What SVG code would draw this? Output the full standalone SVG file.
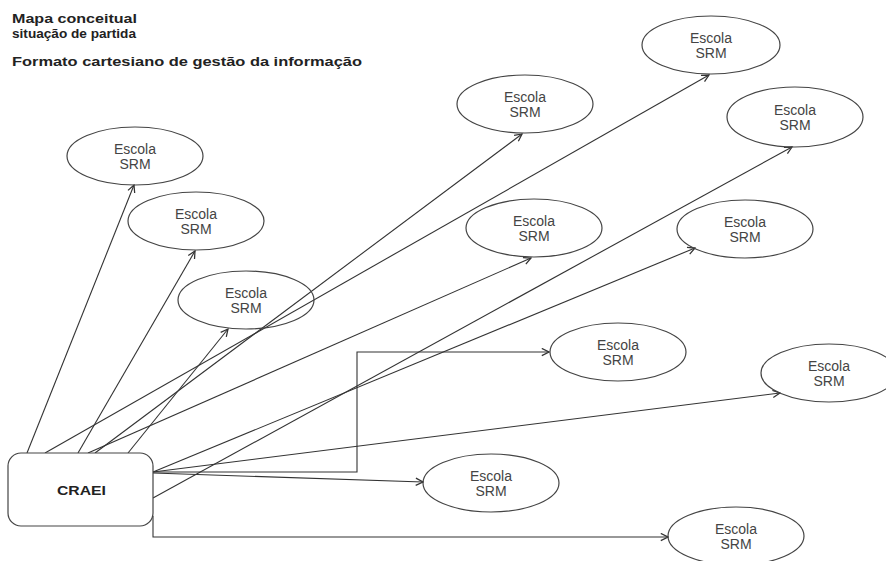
<svg xmlns="http://www.w3.org/2000/svg" width="886" height="561" viewBox="0 0 886 561">
<style>
.title{font-family:"Liberation Sans",Arial,sans-serif;font-weight:bold;font-size:12px;fill:#222}
.node ellipse{fill:none;stroke:#444;stroke-width:1.2}
.lbl{font-family:"Liberation Sans",Arial,sans-serif;font-size:14px;fill:#444;text-anchor:middle}
.box{fill:#fff;stroke:#444;stroke-width:1.2}
.conn{fill:none;stroke:#333;stroke-width:1.1}
</style>
<defs>
<marker id="arr" viewBox="0 0 10 10" refX="9" refY="5" markerWidth="9" markerHeight="9" markerUnits="userSpaceOnUse" orient="auto">
<path d="M1,1 L9,5 L1,9" fill="none" stroke="#333" stroke-width="1.4"/>
</marker>
</defs>
<rect width="886" height="561" fill="#fff"/>
<g id="title">
<text class="title" x="12" y="23" textLength="125" lengthAdjust="spacingAndGlyphs">Mapa conceitual</text>
<text class="title" x="12" y="38" textLength="124" lengthAdjust="spacingAndGlyphs">situação de partida</text>
<text class="title" x="12" y="66" textLength="350" lengthAdjust="spacingAndGlyphs">Formato cartesiano de gestão da informação</text>
</g>
<g id="connectors">
<line class="conn" x1="27" y1="453" x2="134" y2="185" marker-end="url(#arr)"/>
<line class="conn" x1="78" y1="453" x2="195" y2="251" marker-end="url(#arr)"/>
<line class="conn" x1="128" y1="453" x2="228" y2="329" marker-end="url(#arr)"/>
<line class="conn" x1="45" y1="453" x2="709" y2="75" marker-end="url(#arr)"/>
<line class="conn" x1="95" y1="453" x2="522" y2="134" marker-end="url(#arr)"/>
<line class="conn" x1="88" y1="453" x2="531" y2="258" marker-end="url(#arr)"/>
<line class="conn" x1="153" y1="498" x2="792" y2="147" marker-end="url(#arr)"/>
<line class="conn" x1="153" y1="472" x2="695" y2="248" marker-end="url(#arr)"/>
<path class="conn" d="M153,472 H357 V352 H549" marker-end="url(#arr)"/>
<line class="conn" x1="153" y1="472" x2="780" y2="393" marker-end="url(#arr)"/>
<line class="conn" x1="153" y1="473" x2="423" y2="482" marker-end="url(#arr)"/>
<path class="conn" d="M153,516 V537 H668" marker-end="url(#arr)"/>
</g>
<g id="craei">
<rect class="box" x="8" y="453" width="145" height="73" rx="13"/>
<text class="title" x="57" y="495" textLength="49" lengthAdjust="spacingAndGlyphs">CRAEI</text>
</g>
<g id="e1" class="node"><ellipse cx="135" cy="156" rx="68" ry="29"/><text class="lbl" x="135" y="154">Escola</text><text class="lbl" x="135" y="169">SRM</text></g>
<g id="e2" class="node"><ellipse cx="196" cy="221" rx="68" ry="29"/><text class="lbl" x="196" y="219">Escola</text><text class="lbl" x="196" y="234">SRM</text></g>
<g id="e3" class="node"><ellipse cx="246" cy="300" rx="68" ry="29"/><text class="lbl" x="246" y="298">Escola</text><text class="lbl" x="246" y="313">SRM</text></g>
<g id="e4" class="node"><ellipse cx="525" cy="104" rx="68" ry="29"/><text class="lbl" x="525" y="102">Escola</text><text class="lbl" x="525" y="117">SRM</text></g>
<g id="e5" class="node"><ellipse cx="711" cy="45" rx="69" ry="29"/><text class="lbl" x="711" y="43">Escola</text><text class="lbl" x="711" y="58">SRM</text></g>
<g id="e6" class="node"><ellipse cx="795" cy="117" rx="68" ry="30"/><text class="lbl" x="795" y="115">Escola</text><text class="lbl" x="795" y="130">SRM</text></g>
<g id="e7" class="node"><ellipse cx="534" cy="228" rx="68" ry="29"/><text class="lbl" x="534" y="226">Escola</text><text class="lbl" x="534" y="241">SRM</text></g>
<g id="e8" class="node"><ellipse cx="745" cy="229" rx="68" ry="29"/><text class="lbl" x="745" y="227">Escola</text><text class="lbl" x="745" y="242">SRM</text></g>
<g id="e9" class="node"><ellipse cx="618" cy="352" rx="68" ry="29"/><text class="lbl" x="618" y="350">Escola</text><text class="lbl" x="618" y="365">SRM</text></g>
<g id="e10" class="node"><ellipse cx="829" cy="373" rx="68" ry="29"/><text class="lbl" x="829" y="371">Escola</text><text class="lbl" x="829" y="386">SRM</text></g>
<g id="e11" class="node"><ellipse cx="491" cy="483" rx="68" ry="29"/><text class="lbl" x="491" y="481">Escola</text><text class="lbl" x="491" y="496">SRM</text></g>
<g id="e12" class="node"><ellipse cx="736" cy="536" rx="68" ry="29"/><text class="lbl" x="736" y="534">Escola</text><text class="lbl" x="736" y="549">SRM</text></g>
</svg>
